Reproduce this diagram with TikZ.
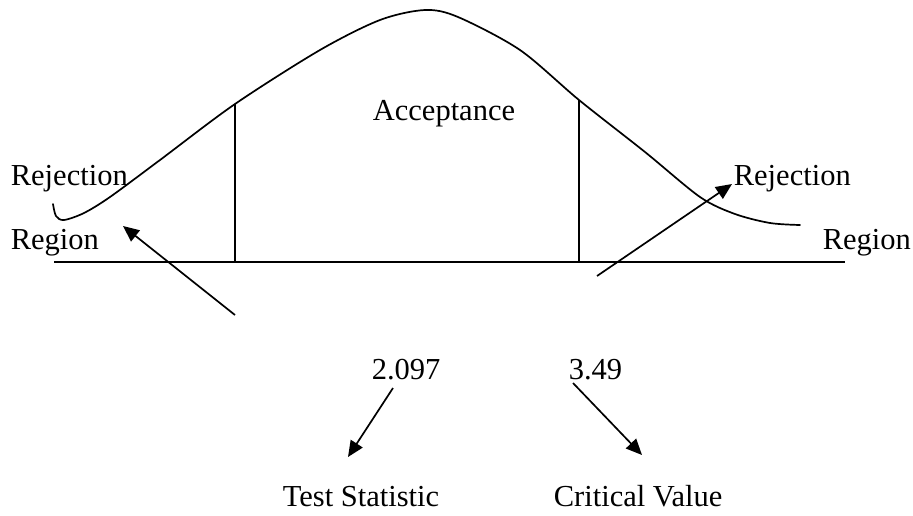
\documentclass[tikz,border=0pt]{standalone}
\usepackage{fontspec}
\setmainfont{Liberation Serif}
\usetikzlibrary{arrows.meta}

\begin{document}
\begin{tikzpicture}[x=1pt,y=-1pt,line width=1.7pt,
  lbl/.style={inner sep=0pt,anchor=base west,font=\fontsize{30.5}{36}\selectfont},
  pointer/.style={-{Triangle[length=16pt,width=14pt]}}]
\useasboundingbox (0,0) rectangle (913,515);
% axis and cut-off lines
\coordinate (axl) at (54,262); \coordinate (axr) at (845,262);
\coordinate (cl) at (235,104); \coordinate (cr) at (579,100);
\draw (axl) -- (axr);
\draw (cl) -- (cl |- axl);
\draw (cr) -- (cr |- axr);
% the curve
\draw[line cap=round] plot[smooth,tension=0.5] coordinates {(53,204) (56,216) (64,220) (84,213) (110,197) (160,160) (235,104) (320,50) (380,20) (425,10) (458,17) (520,50) (579,100) (645,152) (700,197) (735,214) (770,223) (800,225)};
% labels
\node[lbl] (accept) at (372,120) {Acceptance};
\node[lbl] (rejl) at (10,185) {Rejection};
\node[lbl] (regl) at (10,249) {Region};
\node[lbl] (rejr) at (733,185) {Rejection};
\node[lbl] (regr) at (822,249) {Region};
\node[lbl] (tsval) at (371,379) {2.097};
\node[lbl] (cvval) at (568,379) {3.49};
\node[lbl] (tstat) at (282,506) {Test Statistic};
\node[lbl] (crit) at (553,506) {Critical Value};
% arrows
\coordinate (la) at (235,315); \coordinate (lb) at (123,226);
\coordinate (ra) at (597,276); \coordinate (rb) at (732,184);
\coordinate (ta) at (393,388); \coordinate (tb) at (348,457);
\coordinate (ca) at (573,383); \coordinate (cb) at (642,455);
\draw[pointer] (la) -- (lb);
\draw[pointer] (ra) -- (rb);
\draw[pointer] (ta) -- (tb);
\draw[pointer] (ca) -- (cb);
\end{tikzpicture}
\end{document}
